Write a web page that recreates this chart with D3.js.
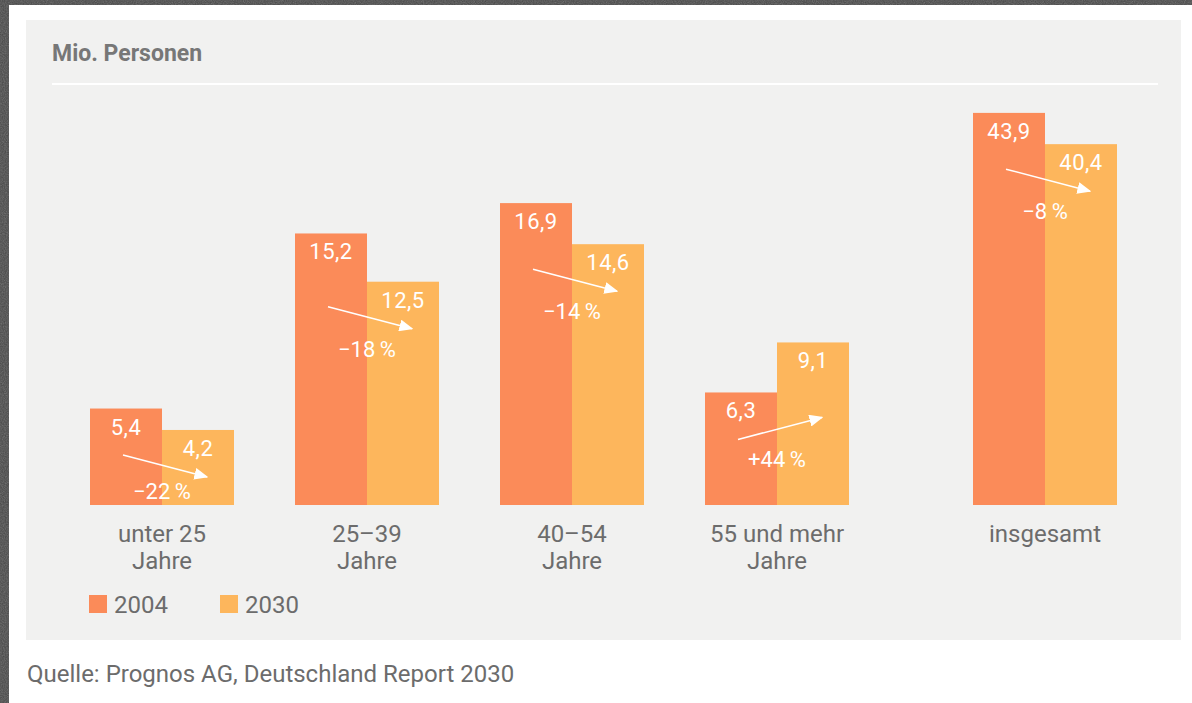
<!DOCTYPE html>
<html>
<head>
<meta charset="utf-8">
<script src="https://cdn.jsdelivr.net/npm/d3@7"></script>
<style>
  body { margin: 0; background: #474747; }
  svg { display: block; font-family: Roboto, "Liberation Sans", sans-serif; }
</style>
</head>
<body>
<div id="chart"></div>
<script>
const width = 1192;
const height = 703;

// Daten (Mio. Personen)
const categories = [["unter 25", "Jahre"], ["25\u201339", "Jahre"], ["40\u201354", "Jahre"], ["55 und mehr", "Jahre"], ["insgesamt"]];
const years = ["2004", "2030"];
const values2004 = [5.4, 15.2, 16.9, 6.3, 43.9];
const values2030 = [4.2, 12.5, 14.6, 9.1, 40.4];
const colors = ["#fb8b59", "#fdb65c"];

const baseY = 505;
const barW = 72;
const totalGap = 63;   // extra Abstand vor "insgesamt"

const svg = d3.select("#chart")
    .append("svg")
    .attr("width", width)
    .attr("height", height);

// Hintergrund mit leichter Struktur
const defs = svg.append("defs");
const noise = defs.append("filter").attr("id", "noise");
noise.append("feTurbulence").attr("type", "fractalNoise").attr("baseFrequency", 0.9).attr("numOctaves", 2).attr("result", "n");
noise.append("feColorMatrix").attr("type", "saturate").attr("values", 0);
noise.append("feComponentTransfer").append("feFuncA").attr("type", "linear").attr("slope", 0.35);

svg.append("rect").attr("width", width).attr("height", height).attr("fill", "#474747");
svg.append("rect").attr("width", width).attr("height", height).attr("filter", "url(#noise)");

// weisse Seite + graues Feld
svg.append("rect").attr("x", 9).attr("y", 5).attr("width", width - 9).attr("height", height - 5).attr("fill", "#ffffff");
svg.append("rect").attr("x", 26).attr("y", 20).attr("width", 1155).attr("height", 620).attr("fill", "#f1f1f0");

svg.append("text")
    .attr("x", 52).attr("y", 61)
    .attr("fill", "#777777")
    .attr("font-size", 23)
    .attr("font-weight", "bold")
    .text("Mio. Personen");

svg.append("line")
    .attr("x1", 52).attr("x2", 1158)
    .attr("y1", 84).attr("y2", 84)
    .attr("stroke", "#ffffff").attr("stroke-width", 2);

// Skalen: Altersgruppen und "insgesamt" mit halbem Massstab
const y = d3.scaleLinear().domain([0, 22]).range([baseY, 112]);
const yTotal = d3.scaleLinear().domain([0, 44]).range([baseY, 112]);
const x = d3.scaleLinear().domain([0, 3]).range([162, 777]);

const last = categories.length - 1;
const data = categories.map((c, i) => ({
    label: c,
    cx: x(i) + (i === last ? totalGap : 0),
    scale: i === last ? yTotal : y,
    v: [values2004[i], values2030[i]]
}));

defs.append("marker")
    .attr("id", "arrow")
    .attr("viewBox", "0 0 10 10")
    .attr("refX", 9).attr("refY", 5)
    .attr("markerWidth", 14).attr("markerHeight", 12)
    .attr("markerUnits", "userSpaceOnUse")
    .attr("orient", "auto")
    .attr("preserveAspectRatio", "none")
    .append("path")
    .attr("d", "M0,0L10,5L0,10Z")
    .attr("fill", "#ffffff");

const g = svg.selectAll("g.group")
    .data(data)
    .join("g")
    .attr("class", "group");

// Balken
g.selectAll("rect")
    .data(d => d.v.map((v, k) => ({v, k, cx: d.cx, scale: d.scale})))
    .join("rect")
    .attr("x", d => d.cx - barW + d.k * barW)
    .attr("y", d => d.scale(d.v))
    .attr("width", barW)
    .attr("height", d => baseY - d.scale(d.v))
    .attr("fill", d => colors[d.k]);

// Werte
g.selectAll("text.val")
    .data(d => d.v.map((v, k) => ({v, k, cx: d.cx, scale: d.scale})))
    .join("text")
    .attr("class", "val")
    .attr("x", d => d.cx - barW / 2 + d.k * barW)
    .attr("y", d => d.scale(d.v) + 26)
    .attr("text-anchor", "middle")
    .attr("fill", "#ffffff")
    .attr("font-size", 22)
    .attr("letter-spacing", 0.5)
    .text(d => d3.format(".1f")(d.v).replace(".", ","));

// Pfeile und Veraenderung
const midY = d => d3.max(d.v, v => d.scale(v)) + 36;
g.append("line")
    .attr("x1", d => d.cx - 39)
    .attr("x2", d => d.cx + 45)
    .attr("y1", d => midY(d) + (d.v[1] < d.v[0] ? -11 : 11))
    .attr("y2", d => midY(d) + (d.v[1] < d.v[0] ? 11 : -11))
    .attr("stroke", "#ffffff")
    .attr("stroke-width", 1.5)
    .attr("marker-end", "url(#arrow)");

g.append("text")
    .attr("x", d => d.cx)
    .attr("y", d => Math.min(midY(d) + 39, baseY - 6))
    .attr("text-anchor", "middle")
    .attr("fill", "#ffffff")
    .attr("font-size", 22)
    .text(d => {
        const p = Math.round((d.v[1] / d.v[0] - 1) * 100);
        return (p > 0 ? "+" : "\u2212") + Math.abs(p) + "\u2009%";
    });

// Kategorien
g.append("text")
    .attr("text-anchor", "middle")
    .attr("fill", "#6c6c6c")
    .attr("font-size", 24)
    .selectAll("tspan")
    .data(d => d.label.map(t => ({t, cx: d.cx})))
    .join("tspan")
    .attr("x", d => d.cx)
    .attr("y", (d, i) => 542 + i * 27)
    .text(d => d.t);

// Legende
const legend = svg.selectAll("g.legend")
    .data(years)
    .join("g")
    .attr("class", "legend")
    .attr("transform", (d, i) => `translate(${89 + i * 131},595)`);
legend.append("rect").attr("width", 18).attr("height", 18).attr("fill", (d, i) => colors[i]);
legend.append("text")
    .attr("x", 25).attr("y", 18)
    .attr("fill", "#6c6c6c")
    .attr("font-size", 24)
    .text(d => d);

svg.append("text")
    .attr("x", 27).attr("y", 682)
    .attr("fill", "#6c6c6c")
    .attr("font-size", 24)
    .text("Quelle: Prognos AG, Deutschland Report 2030");
</script>
</body>
</html>
